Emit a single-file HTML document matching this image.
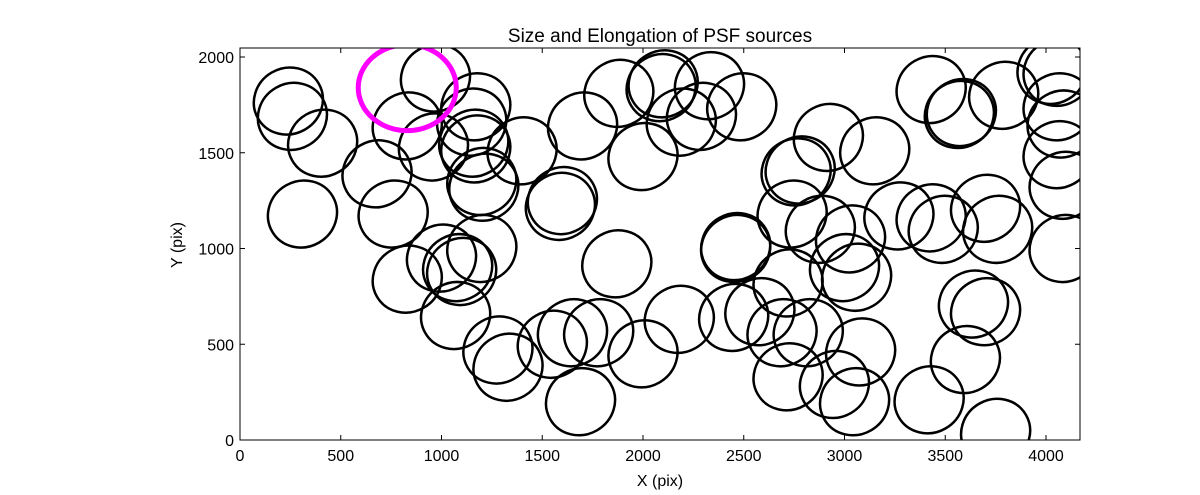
<!DOCTYPE html>
<html><head><meta charset="utf-8"><style>
body{margin:0;background:#fff;}
svg text{font-family:"Liberation Sans",sans-serif;}
</style></head><body>
<svg id="c" width="1200" height="490" viewBox="0 0 1200 490" xmlns="http://www.w3.org/2000/svg">
<rect width="1200" height="490" fill="#fff"/>
<text x="660" y="42" text-anchor="middle" font-size="19">Size and Elongation of PSF sources</text>
<text x="660" y="486" text-anchor="middle" font-size="16">X (pix)</text>
<text x="182" y="245" text-anchor="middle" font-size="16" transform="rotate(-90 182 245)">Y (pix)</text>
<defs><clipPath id="clip"><rect x="240" y="48" width="840" height="392"/></clipPath></defs>
<g id="marks" clip-path="url(#clip)"></g>
<g id="axes"></g>
<rect x="240" y="48" width="840" height="392" fill="none" stroke="#000" stroke-width="1"/>
</svg>
<script>
const xs=[240,260,410,310,680,760,830,830,970,960,1000,1080,1100,1070,1170,1150,1160,1170,1200,1210,1200,1280,1330,1400,1550,1600,1590,1650,1690,1700,1780,1870,1880,2000,2000,2100,2090,2190,2180,2290,2330,2490,2460,2460,2450,2580,2720,2690,2720,2740,2760,2780,2820,2880,2920,2950,3030,3000,3060,3080,3050,3150,3270,3430,3430,3420,3490,3570,3580,3600,3640,3700,3700,3760,3750,3790,4030,4060,4060,4060,4080,4090,4090];
const ys=[1770,1690,1550,1180,1390,1180,840,1640,1890,1530,950,900,880,650,1740,1660,1550,1520,1350,1320,1000,470,380,1510,500,1250,1220,560,200,1640,560,920,1810,1480,450,1860,1840,1660,630,1690,1850,1740,1010,1000,640,670,820,560,330,1180,1400,1410,560,1100,1580,290,1050,900,850,460,200,1510,1170,1160,1830,210,1100,1700,1710,420,710,670,1210,1100,40,1800,1930,1920,1740,1490,1650,1330,1000];
const xTicks=[0,500,1000,1500,2000,2500,3000,3500,4000];
const yTicks=[0,500,1000,1500,2000];
const special=[830,1840];
const X=v=>240+v*0.2015, Y=v=>440-v*0.1915;
const NS='http://www.w3.org/2000/svg';
const g=document.getElementById('marks'), ax=document.getElementById('axes');
xs.forEach((x,i)=>{const e=document.createElementNS(NS,'ellipse');
e.setAttribute('cx',X(x));e.setAttribute('cy',Y(ys[i]));e.setAttribute('rx',35);e.setAttribute('ry',33);
e.setAttribute('transform',`rotate(-30 ${X(x)} ${Y(ys[i])})`);
e.setAttribute('fill','none');e.setAttribute('stroke','#000');e.setAttribute('stroke-width','2.5');


g.appendChild(e);});
const m=document.createElementNS(NS,'ellipse');
m.setAttribute('cx',X(special[0]));m.setAttribute('cy',Y(special[1]));m.setAttribute('rx',49);m.setAttribute('ry',43);
m.setAttribute('fill','none');m.setAttribute('stroke','#ff00ff');m.setAttribute('stroke-width','5');


g.appendChild(m);
xTicks.forEach(t=>{const px=X(t);
const l=document.createElementNS(NS,'path');l.setAttribute('d',`M${px} 440v-5M${px} 48v5`);l.setAttribute('stroke','#000');


ax.appendChild(l);
const tx=document.createElementNS(NS,'text');tx.setAttribute('x',px);tx.setAttribute('y',461);tx.setAttribute('text-anchor','middle');tx.setAttribute('font-size','16');tx.textContent=t;


ax.appendChild(tx);});
yTicks.forEach(t=>{const py=Y(t);
const l=document.createElementNS(NS,'path');l.setAttribute('d',`M240 ${py}h5M1080 ${py}h-5`);l.setAttribute('stroke','#000');


ax.appendChild(l);
const tx=document.createElementNS(NS,'text');tx.setAttribute('x',234);tx.setAttribute('y',py+6);tx.setAttribute('text-anchor','end');tx.setAttribute('font-size','16');tx.textContent=t;


ax.appendChild(tx);});
</script>
</body></html>
